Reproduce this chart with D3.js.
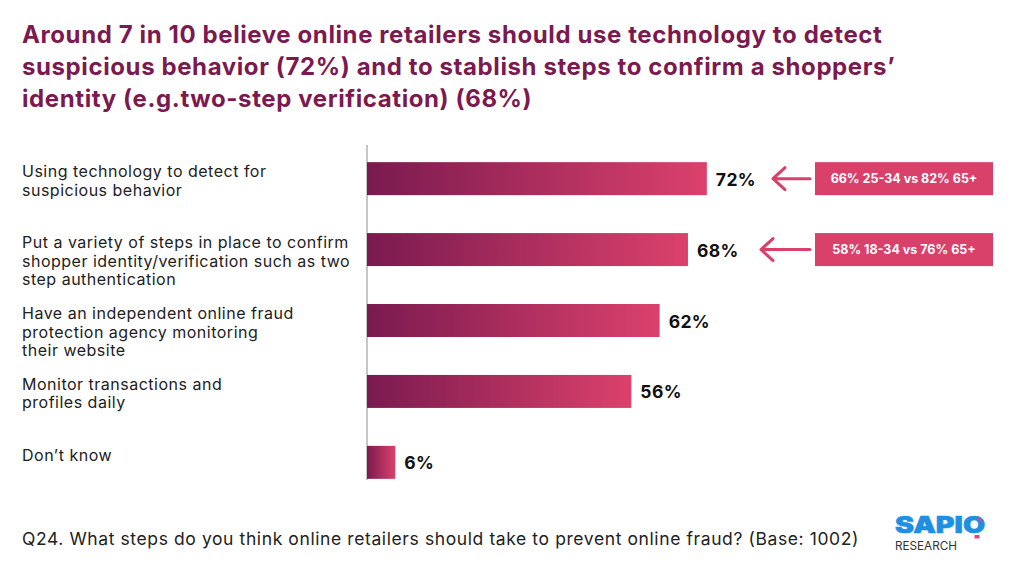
<!DOCTYPE html>
<html>
<head>
<meta charset="utf-8">
<script src="https://cdn.jsdelivr.net/npm/d3@7"></script>
<style>
  body { margin: 0; background: #fff; }
  text { font-family: 'Inter', 'Lato', sans-serif; }
</style>
</head>
<body>
<div id="chart"></div>
<script>
// data
var categories = [
  ['Using technology to detect for', 'suspicious behavior'],
  ['Put a variety of steps in place to confirm', 'shopper identity/verification such as two', 'step authentication'],
  ['Have an independent online fraud', 'protection agency monitoring', 'their website'],
  ['Monitor transactions and', 'profiles daily'],
  ['Don\u2019t know']
]
var values = [72, 68, 62, 56, 6]
var callouts = ['66% 25-34 vs 82% 65+', '58% 18-34 vs 76% 65+']
var titleLines = [
  'Around 7 in 10 believe online retailers should use technology to detect',
  'suspicious behavior (72%) and to stablish steps to confirm a shoppers\u2019',
  'identity (e.g.two-step verification) (68%)'
]
var footnote = 'Q24. What steps do you think online retailers should take to prevent online fraud? (Base: 1002)'

var width = 1015
var height = 564
var pink = '#d9416b'
var plum = '#7b1a50'

var svg = d3
  .select('#chart')
  .append('svg')
  .attr('width', width)
  .attr('height', height)

// gradient for bars
var grad = svg.append('defs').append('linearGradient').attr('id', 'barGrad')
grad.append('stop').attr('offset', '0%').attr('stop-color', '#7a1a4f')
grad.append('stop').attr('offset', '100%').attr('stop-color', '#dc416c')

// title
svg
  .append('g')
  .selectAll('text')
  .data(titleLines)
  .join('text')
  .attr('x', 22)
  .attr('y', (d, i) => 43 + i * 32)
  .attr('fill', plum)
  .attr('font-size', 24)
  .attr('font-weight', 700)
  .style('letter-spacing', '0.6px')
  .text(d => d)

// scales
var x = d3.scaleLinear().domain([0, 100]).range([367, 839])
var y = d3
  .scaleBand()
  .domain(d3.range(values.length))
  .range([143, 498])
  .paddingInner(0.535)
  .paddingOuter(0.27)

// axis line
svg
  .append('line')
  .attr('x1', x(0))
  .attr('x2', x(0))
  .attr('y1', 145)
  .attr('y2', 480)
  .attr('stroke', '#b3b3b3')
  .attr('stroke-width', 1.5)

// bars
svg
  .append('g')
  .selectAll('rect')
  .data(values)
  .join('rect')
  .attr('x', x(0))
  .attr('y', (d, i) => y(i))
  .attr('width', d => x(d) - x(0))
  .attr('height', y.bandwidth())
  .attr('fill', 'url(#barGrad)')

// value labels
svg
  .append('g')
  .selectAll('text')
  .data(values)
  .join('text')
  .attr('x', d => x(d) + 9)
  .attr('y', (d, i) => y(i) + y.bandwidth() / 2 + 7)
  .attr('font-size', 17.5)
  .attr('font-weight', 700)
  .attr('fill', '#111')
  .style('letter-spacing', '0.4px')
  .text(d => d + '%')

// category labels
var cat = svg
  .append('g')
  .selectAll('text')
  .data(categories)
  .join('text')
  .attr('x', 22)
  .attr('y', (d, i) => y(i) + 15)
  .attr('font-size', 16)
  .attr('fill', '#222')
  .style('letter-spacing', '0.5px')
cat
  .selectAll('tspan')
  .data(d => d)
  .join('tspan')
  .attr('x', 22)
  .attr('dy', (d, i) => (i === 0 ? 0 : 18.5))
  .text(d => d)

// callouts
var co = svg
  .append('g')
  .selectAll('g')
  .data(callouts)
  .join('g')
  .attr('transform', (d, i) => 'translate(0,' + (y(i) + y.bandwidth() / 2) + ')')

co.append('rect')
  .attr('x', 815)
  .attr('y', -16.5)
  .attr('width', 178)
  .attr('height', 33)
  .attr('fill', pink)

co.append('text')
  .attr('x', 904)
  .attr('y', 4.5)
  .attr('text-anchor', 'middle')
  .attr('font-size', 12.5)
  .attr('font-weight', 700)
  .attr('fill', '#fff')
  .text(d => d)

co.append('path')
  .attr('d', (d, i) => {
    var tip = i === 0 ? 773 : 761
    return 'M' + tip + ',0H810M' + (tip + 12) + ',-11L' + tip + ',0L' + (tip + 12) + ',11'
  })
  .attr('fill', 'none')
  .attr('stroke', pink)
  .attr('stroke-width', 3)
  .attr('stroke-linecap', 'round')
  .attr('stroke-linejoin', 'round')

// footnote
svg
  .append('text')
  .attr('x', 22)
  .attr('y', 545)
  .attr('font-size', 17.5)
  .attr('fill', '#222')
  .style('letter-spacing', '0.6px')
  .text(footnote)

// logo
var logo = svg.append('g')
logo
  .append('text')
  .attr('x', 895)
  .attr('y', 533)
  .attr('font-size', 23)
  .attr('font-weight', 900)
  .attr('fill', '#1e8fe3')
  .attr('stroke', '#1e8fe3')
  .attr('stroke-width', 0.6)
  .attr('textLength', 90)
  .attr('lengthAdjust', 'spacingAndGlyphs')
  .text('SAPIO')
logo
  .append('text')
  .attr('x', 895)
  .attr('y', 550)
  .attr('font-size', 12)
  .attr('fill', '#333')
  .attr('textLength', 62)
  .attr('lengthAdjust', 'spacingAndGlyphs')
  .text('RESEARCH')
logo
  .append('path')
  .attr('d', 'M977,518a5,5 0 0 1 5,5')
  .attr('fill', 'none')
  .attr('stroke', '#e83e8c')
  .attr('stroke-width', 1.5)
logo
  .append('rect')
  .attr('x', 974.5)
  .attr('y', 535)
  .attr('width', 5)
  .attr('height', 3.5)
  .attr('fill', '#e83e8c')
</script>
</body>
</html>
